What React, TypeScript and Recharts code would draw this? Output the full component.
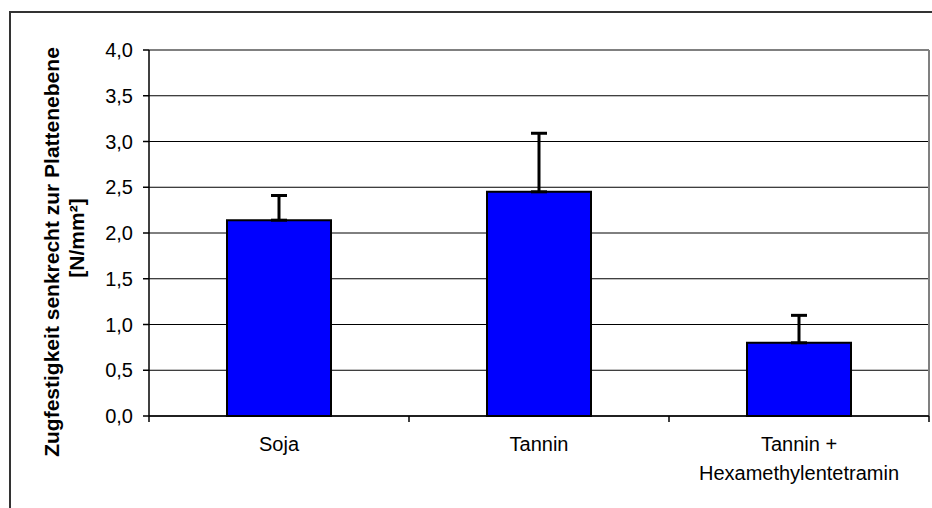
import React from "react";
import { BarChart, Bar, XAxis, YAxis, CartesianGrid, ErrorBar, ReferenceLine } from "recharts";

const categories = ["Soja", "Tannin", "Tannin +\nHexamethylentetramin"];
const means = [2.14, 2.45, 0.8];
const upperErrors = [0.27, 0.64, 0.3];
const yTicks = [0, 0.5, 1, 1.5, 2, 2.5, 3, 3.5, 4];
const yLabelLines = ["Zugfestigkeit senkrecht zur Plattenebene", "[N/mm²]"];

const data = categories.map((c, i) => ({ name: c, value: means[i], err: [0, upperErrors[i]] }));

const FONT = "'Liberation Sans', Arial, Helvetica, sans-serif";
const TICK_LEN = 6;
const LABEL_GAP = 15;

const CatTick = (props: any) => {
  const { x, y, payload, index, visibleTicksCount } = props;
  const lines = String(payload.value).split("\n");
  const half = payload.offset || 0;
  const axisY = y - TICK_LEN - LABEL_GAP;
  const isLast = index === (visibleTicksCount ?? categories.length) - 1;
  return (
    <g>
      <line x1={x - half} x2={x - half} y1={axisY} y2={axisY + TICK_LEN} stroke="#000" strokeWidth={1.5} />
      {isLast && (
        <line x1={x + half} x2={x + half} y1={axisY} y2={axisY + TICK_LEN} stroke="#000" strokeWidth={1.5} />
      )}
      <text x={x} y={y} textAnchor="middle" fill="#000" fontSize={20} fontFamily={FONT}>
        {lines.map((l, i) => (
          <tspan key={i} x={x} dy={i === 0 ? "0.71em" : "1.45em"}>
            {l}
          </tspan>
        ))}
      </text>
    </g>
  );
};

const YLabel = (props: any) => {
  const vb = props.viewBox || { x: 0, y: 0, width: 0, height: 0 };
  const mid = vb.y + vb.height / 2;
  const x1 = vb.x + 51;
  const y1 = mid + 19;
  const x2 = vb.x + 76;
  const y2 = mid + 5;
  return (
    <g>
      <text
        x={x1}
        y={y1}
        transform={`rotate(-90, ${x1}, ${y1})`}
        textAnchor="middle"
        dominantBaseline="central"
        fontSize={21}
        fontWeight="bold"
        fontFamily={FONT}
        fill="#000"
      >
        {yLabelLines[0]}
      </text>
      <text
        x={x2}
        y={y2}
        transform={`rotate(-90, ${x2}, ${y2})`}
        textAnchor="middle"
        dominantBaseline="central"
        fontSize={21}
        fontWeight="bold"
        fontFamily={FONT}
        fill="#000"
      >
        {yLabelLines[1]}
      </text>
    </g>
  );
};

export default function App() {
  return (
    <div style={{ position: "absolute", left: 0, top: 0, width: 932, height: 508, overflow: "hidden", background: "#fff" }}>
      <div
        style={{
          position: "absolute",
          left: 9,
          top: 11,
          width: 940,
          height: 520,
          borderTop: "2px solid #333",
          borderLeft: "2px solid #333",
        }}
      />
      <div style={{ position: "absolute", left: 0, top: 0 }}>
        <BarChart
          width={932}
          height={508}
          data={data}
          margin={{ top: 50, right: 3, bottom: 32, left: 0 }}
          barCategoryGap="30%"
        >
          <CartesianGrid vertical={false} stroke="#000" strokeWidth={1} />
          <CartesianGrid
            horizontal={false}
            stroke="#808080"
            strokeWidth={2}
            verticalCoordinatesGenerator={({ offset }: any) => [offset.left + offset.width]}
          />
          <XAxis
            dataKey="name"
            height={60}
            axisLine={{ stroke: "#000", strokeWidth: 1.5 }}
            tickLine={false}
            tickSize={TICK_LEN}
            tickMargin={LABEL_GAP}
            interval={0}
            tick={<CatTick />}
          />
          <YAxis
            width={149}
            domain={[0, 4]}
            ticks={yTicks}
            interval={0}
            tickFormatter={(v: number) => v.toFixed(1).replace(".", ",")}
            tick={{ fill: "#000", fontSize: 20, fontFamily: FONT }}
            tickSize={6}
            tickMargin={10}
            axisLine={{ stroke: "#000", strokeWidth: 1.5 }}
            tickLine={{ stroke: "#000", strokeWidth: 1.5 }}
            label={{ content: <YLabel /> }}
          />
          <ReferenceLine y={4} stroke="#808080" strokeWidth={2} />
          <Bar dataKey="value" fill="#0000FF" stroke="#000" strokeWidth={2} isAnimationActive={false}>
            <ErrorBar dataKey="err" width={8} stroke="#000" strokeWidth={3} direction="y" />
          </Bar>
        </BarChart>
      </div>
    </div>
  );
}
